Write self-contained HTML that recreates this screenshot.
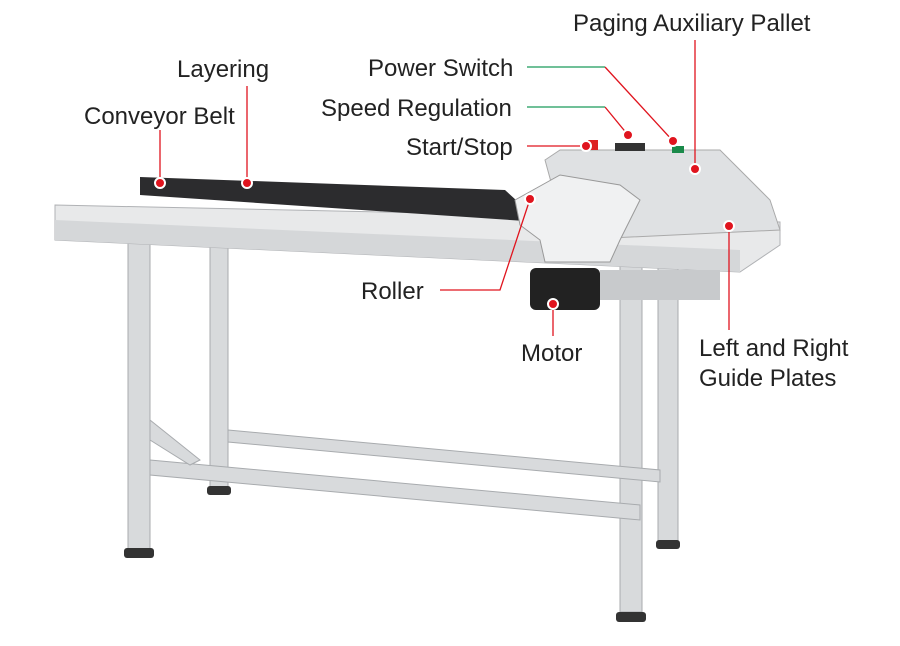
<!DOCTYPE html>
<html><head><style>
body{margin:0;background:#fff}
svg{display:block}
text{font-family:"Liberation Sans",sans-serif;font-size:24px;fill:#222}
</style></head><body>
<svg width="900" height="646" viewBox="0 0 900 646">
<g fill="#d8dadc" stroke="#a8abae" stroke-width="1">
<rect x="128" y="235" width="22" height="315"/>
<rect x="210" y="238" width="18" height="250"/>
<rect x="620" y="262" width="22" height="350"/>
<rect x="658" y="262" width="20" height="280"/>
<polygon points="150,460 640,505 640,520 150,475"/>
<polygon points="228,430 660,470 660,482 228,442"/>
<polygon points="150,420 200,460 190,465 150,440"/>
</g>
<g fill="#333">
<rect x="124" y="548" width="30" height="10" rx="3"/>
<rect x="207" y="486" width="24" height="9" rx="3"/>
<rect x="616" y="612" width="30" height="10" rx="3"/>
<rect x="656" y="540" width="24" height="9" rx="3"/>
</g>
<polygon points="55,205 520,215 780,222 780,245 740,272 55,240" fill="#e8e9ea" stroke="#b0b2b5"/>
<polygon points="55,220 740,250 740,272 55,240" fill="#d5d7d9"/>
<polygon points="140,177 505,190 540,222 140,195" fill="#2c2c2e"/>
<rect x="530" y="268" width="70" height="42" rx="6" fill="#222"/>
<rect x="600" y="270" width="120" height="30" fill="#c8cacc"/>
<polygon points="545,160 560,150 720,150 770,200 780,230 610,238 560,215" fill="#dfe1e3" stroke="#aaa"/>
<polygon points="515,200 560,175 620,185 640,200 620,240 610,262 545,262 540,240 520,225" fill="#f0f1f2" stroke="#999"/>
<rect x="588" y="140" width="10" height="10" fill="#d22"/>
<rect x="615" y="143" width="30" height="8" fill="#333"/>
<rect x="672" y="146" width="12" height="7" fill="#1a8a4a"/>
<g stroke="#e0141e" stroke-width="1.3" fill="none">
<line x1="160" y1="130" x2="160" y2="183"/>
<line x1="247" y1="86" x2="247" y2="183"/>
<line x1="695" y1="40" x2="695" y2="169"/>
<polyline points="527,146 586,146"/>
<polyline points="605,67 673,141"/>
<polyline points="605,107 628,135"/>
<polyline points="440,290 500,290 530,199"/>
<line x1="553" y1="304" x2="553" y2="336"/>
<line x1="729" y1="226" x2="729" y2="330"/>
</g>
<g stroke="#1a9a5a" stroke-width="1.3">
<line x1="527" y1="67" x2="605" y2="67"/>
<line x1="527" y1="107" x2="605" y2="107"/>
</g>
<g fill="#e0141e" stroke="#fff" stroke-width="2">
<circle cx="160" cy="183" r="5"/><circle cx="247" cy="183" r="5"/>
<circle cx="586" cy="146" r="5"/><circle cx="628" cy="135" r="5"/>
<circle cx="673" cy="141" r="5"/><circle cx="695" cy="169" r="5"/>
<circle cx="530" cy="199" r="5"/><circle cx="729" cy="226" r="5"/>
<circle cx="553" cy="304" r="5"/>
</g>
<text x="573" y="31">Paging Auxiliary Pallet</text>
<text x="177" y="77">Layering</text>
<text x="368" y="76">Power Switch</text>
<text x="321" y="116">Speed Regulation</text>
<text x="84" y="124">Conveyor Belt</text>
<text x="406" y="155">Start/Stop</text>
<text x="361" y="299">Roller</text>
<text x="521" y="361">Motor</text>
<text x="699" y="356">Left and Right</text>
<text x="699" y="386">Guide Plates</text>
</svg>
</body></html>
